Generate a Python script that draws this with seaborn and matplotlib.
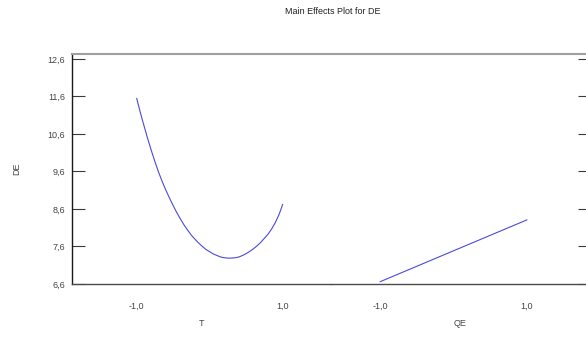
import matplotlib
matplotlib.use("Agg")
import matplotlib.pyplot as plt
import matplotlib.ticker as mticker
import numpy as np
import pandas as pd
import seaborn as sns

# Fitted main effect of T (coded levels) on DE
t_levels = [-1.00, -0.95, -0.90, -0.85, -0.80, -0.75, -0.70, -0.65, -0.60, -0.55,
            -0.50, -0.45, -0.40, -0.35, -0.30, -0.25, -0.20, -0.15, -0.10, -0.05,
            0.00, 0.05, 0.10, 0.15, 0.20, 0.25, 0.30, 0.35, 0.40, 0.45,
            0.50, 0.55, 0.60, 0.65, 0.70, 0.75, 0.80, 0.85, 0.90, 0.95, 1.00]
de_vs_t = [11.55, 11.17, 10.82, 10.48, 10.16, 9.86, 9.58, 9.33, 9.10, 8.89,
           8.69, 8.50, 8.33, 8.17, 8.03, 7.90, 7.79, 7.69, 7.60, 7.52,
           7.46, 7.40, 7.36, 7.32, 7.30, 7.29, 7.29, 7.30, 7.32, 7.36,
           7.41, 7.47, 7.54, 7.62, 7.71, 7.82, 7.93, 8.07, 8.24, 8.45, 8.72]

# Fitted main effect of QE (coded levels) on DE
qe_levels = [-1.0, 1.0]
de_vs_qe = [6.66, 8.31]

y_ticks = [6.6, 7.6, 8.6, 9.6, 10.6, 11.6, 12.6]
x_ticks = [-1.0, 1.0]

sns.set_style("white")
plt.rcParams["font.family"] = ["Liberation Sans Narrow", "Liberation Sans", "DejaVu Sans"]

W, H = 586, 342
fig = plt.figure(figsize=(W / 100, H / 100), dpi=100)

top, bottom = 54, 284
split = 331
ax1 = fig.add_axes([72 / W, (H - bottom) / H, (split - 72) / W, (bottom - top) / H])
ax2 = fig.add_axes([split / W, (H - bottom) / H, (590 - split) / W, (bottom - top) / H],
                   sharey=ax1)

line_color = "#4b4bd8"
sns.lineplot(x=t_levels, y=de_vs_t, ax=ax1, color=line_color, linewidth=0.8)
sns.lineplot(x=qe_levels, y=de_vs_qe, ax=ax2, color=line_color, linewidth=0.8)

ax1.set_xlim(-1.886, 1.662)
ax2.set_xlim(-1.667, 1.857)
ax1.set_ylim(6.6, 12.73)

comma = mticker.FuncFormatter(lambda v, p: f"{v:.1f}".replace(".", ","))

for ax in (ax1, ax2):
    ax.set_xticks(x_ticks)
    ax.xaxis.set_major_formatter(comma)
    ax.tick_params(axis="x", length=0, pad=13, labelsize=6.5, labelcolor="#444444")
    ax.spines["top"].set_color("#a0a0a0")
    ax.spines["top"].set_linewidth(1.5)
    ax.spines["bottom"].set_color("#4a4a4a")
    ax.spines["bottom"].set_linewidth(1.0)
    ax.spines["right"].set_visible(False)

ax1.spines["left"].set_color("#1a1a1a")
ax1.spines["left"].set_linewidth(1.0)
ax2.spines["left"].set_visible(False)

ax1.set_yticks(y_ticks)
ax1.yaxis.set_major_formatter(comma)
ax1.tick_params(axis="y", direction="in", length=9, width=0.8, color="#3a3a3a",
                pad=5, labelsize=6.5, labelcolor="#444444", left=True)

ax2.yaxis.tick_right()
ax2.tick_params(axis="y", direction="in", length=9, width=0.8, color="#3a3a3a",
                labelright=False, labelleft=False, right=True, left=False)

ax1.set_xlabel("T", fontsize=6.5, color="#444444", labelpad=6)
ax2.set_xlabel("QE", fontsize=6.5, color="#444444", labelpad=6)
ax1.set_ylabel("DE", fontsize=6.5, color="#444444", labelpad=19)

fig.text(333 / W, 1 - 11 / H, "Main Effects Plot for DE", ha="center", va="center",
         fontsize=6.5, color="#222222")

fig.savefig("out.png", dpi=100)
